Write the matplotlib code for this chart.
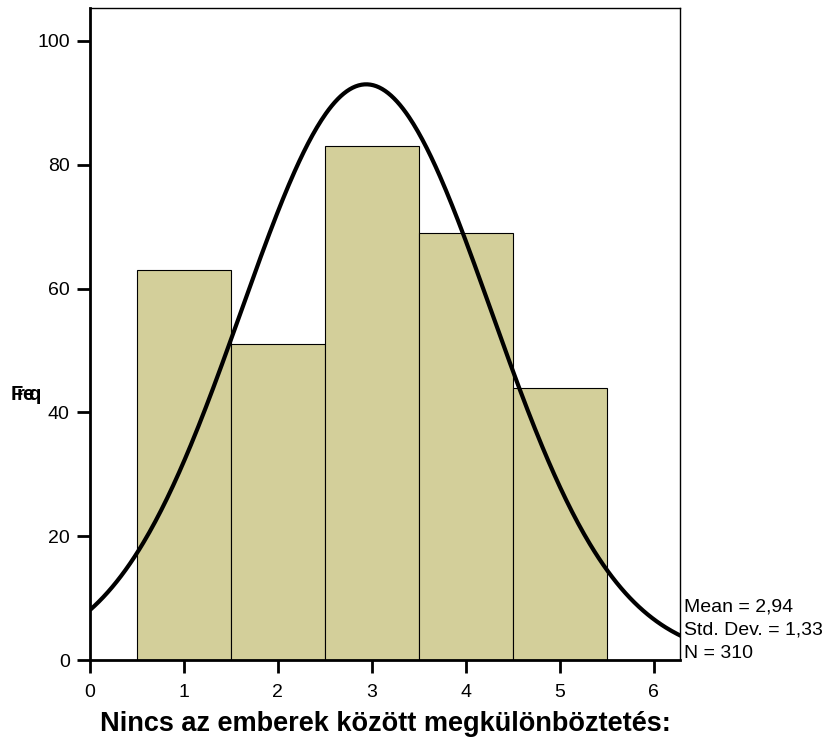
import numpy as np
import matplotlib
matplotlib.use('Agg')
import matplotlib.pyplot as plt

# histogram of responses, 1..5 scale
categories = [1, 2, 3, 4, 5]
counts = [63, 51, 83, 69, 44]
mean, sd, n = 2.94, 1.33, 310
xticks = [0, 1, 2, 3, 4, 5, 6]
yticks = [0, 20, 40, 60, 80, 100]

plt.rcParams['font.family'] = ['Liberation Sans', 'DejaVu Sans']

fig = plt.figure(figsize=(8.31, 7.42), dpi=100)
ax = fig.add_axes([0.1083, 0.1105, 0.7100, 0.8786])

ax.bar(categories, counts, width=1.0, color='#d3cf9a', edgecolor='black', linewidth=0.8, zorder=2)

# fitted normal curve, scaled to counts (bin width 1)
xs = np.linspace(0, 6.3, 400)
ys = n * np.exp(-0.5 * ((xs - mean) / sd) ** 2) / (sd * np.sqrt(2 * np.pi))
ax.plot(xs, ys, color='black', lw=3, zorder=3, solid_capstyle='butt')

ax.set_xlim(0, 6.28)
ax.set_ylim(0, 105.3)
ax.set_xticks(xticks)
ax.set_yticks(yticks)
ax.tick_params(direction='out', length=9.5, width=2, labelsize=14, pad=5)
ax.tick_params(axis='x', pad=8)
for s in ax.spines.values():
    s.set_linewidth(1)
ax.spines['left'].set_linewidth(2)
ax.spines['bottom'].set_linewidth(2)

ax.set_xlabel('Nincs az emberek között megkülönböztetés:', fontsize=19.5, fontweight='bold', labelpad=7)

# smeared y label
for i, ch in enumerate('Freq'):
    fig.text(0.013 + i * 0.007, 0.468, ch, fontsize=14.5, fontweight='heavy', ha='left', va='center')

fig.text(0.823, 0.182, 'Mean = ' + f'{mean:.2f}'.replace('.', ','), fontsize=14, va='center')
fig.text(0.823, 0.151, 'Std. Dev. = ' + f'{sd:.2f}'.replace('.', ','), fontsize=14, va='center')
fig.text(0.823, 0.119, f'N = {n}', fontsize=14, va='center')

fig.savefig('out.png', dpi=100)
